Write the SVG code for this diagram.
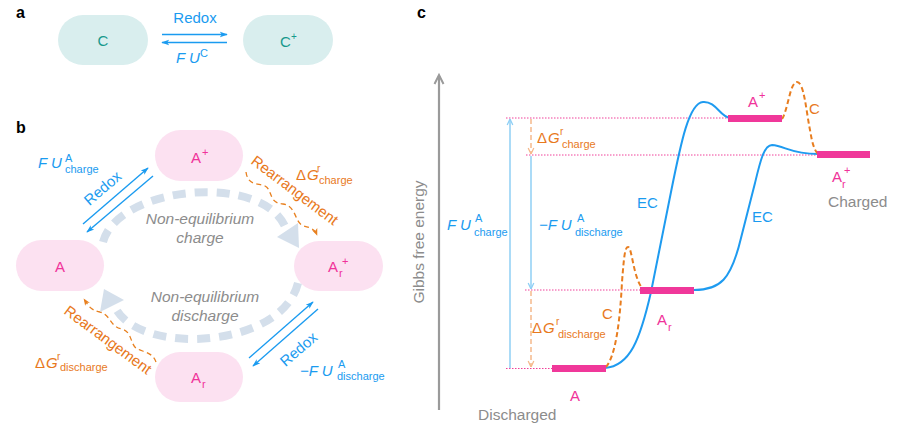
<svg xmlns="http://www.w3.org/2000/svg" width="897" height="432" viewBox="0 0 897 432">
<style>
text{font-family:"Liberation Sans",Arial,Helvetica,sans-serif}
.pl{font-size:16px;font-weight:bold;fill:#000}
.pc{fill:#d9eeee}
.tc{fill:#17998c;font-size:15px}
.pp{fill:#fce1f1}
.tp{fill:#f0339a;font-size:15px}
.bl{fill:#1a9bf0;font-size:15px}
.or{fill:#e8791d;font-size:15px}
.gr{fill:#8c8c8c;font-size:15.5px}
.it{font-style:italic}
.s{font-size:11px}
.sup{font-size:10px}
.blk{stroke:#1a9bf0;stroke-width:1.4;fill:none}
.ow{stroke:#e8801f;stroke-width:1.3;fill:none;stroke-dasharray:5 3.5}
.big{stroke:#d4dfeb;stroke-width:8;fill:none;stroke-dasharray:13 9}
.dot{stroke:#f0409a;stroke-width:1;stroke-dasharray:1.5 1.5;fill:none}
.bar{fill:#f0389a}
.ec{stroke:#1e9bf0;stroke-width:2;fill:none}
.cd{stroke:#e87d1f;stroke-width:2;fill:none;stroke-dasharray:5 3}
</style>
<defs>
<marker id="ab" viewBox="0 0 10 10" refX="9" refY="5" markerWidth="8" markerHeight="8" orient="auto" markerUnits="userSpaceOnUse"><path d="M0,1.5 L10,5 L0,8.5 L2.5,5 z" fill="#1a9bf0"/></marker>
<marker id="ao" viewBox="0 0 10 10" refX="9" refY="5" markerWidth="7" markerHeight="7" orient="auto" markerUnits="userSpaceOnUse"><path d="M0,1 L10,5 L0,9 L2.5,5 z" fill="#e8801f"/></marker>
<marker id="cb" viewBox="0 0 10 10" refX="9.5" refY="5" markerWidth="8" markerHeight="8" orient="auto" markerUnits="userSpaceOnUse"><path d="M2,1.5 L9.5,5 L2,8.5" fill="none" stroke="#8fcff5" stroke-width="1.6"/></marker>
<marker id="co" viewBox="0 0 10 10" refX="9.5" refY="5" markerWidth="8" markerHeight="8" orient="auto" markerUnits="userSpaceOnUse"><path d="M2,1.5 L9.5,5 L2,8.5" fill="none" stroke="#f5b98c" stroke-width="1.6"/></marker>
</defs>

<!-- panel labels -->
<text class="pl" x="16" y="18">a</text>
<text class="pl" x="16" y="133">b</text>
<text class="pl" x="417" y="18">c</text>

<!-- panel a nodes -->
<g id="nodeC"><rect class="pc" x="58" y="15" width="90" height="50" rx="25"/><text class="tc" x="103" y="46" text-anchor="middle">C</text></g>
<g id="nodeCplus"><rect class="pc" x="243" y="15" width="90" height="50" rx="25"/><text class="tc" x="280" y="47">C</text><text class="tc sup" x="291" y="40">+</text></g>

<!-- panel b nodes -->
<g id="nodeAplus"><rect class="pp" x="155" y="130" width="88" height="51" rx="25.5"/><text class="tp" x="191" y="163">A</text><text class="tp s" x="202" y="156">+</text></g>
<g id="nodeA"><rect class="pp" x="16" y="240" width="88" height="51" rx="25.5"/><text class="tp" x="60" y="272" text-anchor="middle">A</text></g>
<g id="nodeArplus"><rect class="pp" x="294" y="241" width="89" height="50" rx="25"/><text class="tp" x="328" y="272">A</text><text class="tp s" x="339" y="277">r</text><text class="tp s" x="342" y="265">+</text></g>
<g id="nodeAr"><rect class="pp" x="155" y="352" width="88" height="50" rx="25"/><text class="tp" x="191" y="383">A</text><text class="tp s" x="202" y="388">r</text></g>

<!-- connectors -->
<g id="connectors">
<!-- panel a -->
<line class="blk" x1="162" y1="34.5" x2="227" y2="34.5" marker-end="url(#ab)"/>
<line class="blk" x1="227" y1="42.5" x2="162" y2="42.5" marker-end="url(#ab)"/>
<!-- panel b redox -->
<line class="blk" x1="83" y1="224" x2="148" y2="168" marker-end="url(#ab)"/>
<line class="blk" x1="153" y1="176" x2="87" y2="232" marker-end="url(#ab)"/>
<line class="blk" x1="249" y1="358" x2="313" y2="302" marker-end="url(#ab)"/>
<line class="blk" x1="318" y1="309" x2="253" y2="366" marker-end="url(#ab)"/>
<!-- rearrangement wavy -->
<path class="ow" d="M246 172 C248 186,258 183,265 186 C273 190,268 203,283 204 C297 206,294 223,304 226 C312 228,315 230,317 235" marker-end="url(#ao)"/>
<path class="ow" d="M156 362 C153 352,142 352,136 348 C130 343,132 332,122 329 C110 327,111 315,100 312 C90 310,88 305,84 299" marker-end="url(#ao)"/>
<!-- non-equilibrium big arrows -->
<path class="big" d="M103 242 C118 185,266 172,286 229"/>
<polygon points="299,248 298,223 277,237" fill="#d4dfeb"/>
<path class="big" d="M298 283 C282 348,142 356,116 309"/>
<polygon points="104,289 100,312 124,300" fill="#d4dfeb"/>

<!-- panel c axis -->
<line x1="439" y1="410" x2="439" y2="76" stroke="#9a9a9a" stroke-width="2.2"/>
<polyline points="434.5,84 439,75 443.5,84" fill="none" stroke="#9a9a9a" stroke-width="2"/>
<!-- level dotted lines -->
<line class="dot" x1="506" y1="118" x2="728" y2="118"/>
<line class="dot" x1="526" y1="155" x2="818" y2="155"/>
<line class="dot" x1="525" y1="290" x2="640" y2="290"/>
<line class="dot" x1="506" y1="368.5" x2="553" y2="368.5"/>
<!-- vertical arrows -->
<line x1="510" y1="368" x2="510" y2="119" stroke="#8fcff5" stroke-width="1.5" marker-end="url(#cb)"/>
<line x1="531" y1="156" x2="531" y2="289" stroke="#8fcff5" stroke-width="1.5" marker-end="url(#cb)"/>
<line x1="531" y1="119" x2="531" y2="154" stroke="#f5b98c" stroke-width="1.5" stroke-dasharray="5 3" marker-end="url(#co)"/>
<line x1="531" y1="291" x2="531" y2="367" stroke="#f5b98c" stroke-width="1.5" stroke-dasharray="5 3" marker-end="url(#co)"/>
<!-- EC curves -->
<path class="ec" d="M605 368 C630 366,640 340,651 292 L671 192 C681 142,689 103,703 102 C716 101,720 117,730 118"/>
<path class="ec" d="M694 290 C720 290,731 280,741 238 L755 183 C760 162,764 145,772 145 C785 146,791 154,818 154"/>
<!-- C curves -->
<path class="cd" d="M606 367 C616 355,620 320,622 282 C624 256,625 247,628 247 C632 247,633 276,642 288"/>
<path class="cd" d="M782 119 C788 110,790 82,797 82 C804 82,806 110,810 130 C812 142,814 150,818 154"/>
</g>

<!-- bars -->
<g id="levels">
<rect class="bar" x="552" y="365" width="54" height="7"/>
<rect class="bar" x="640" y="287" width="54" height="7"/>
<rect class="bar" x="728" y="115" width="54" height="7"/>
<rect class="bar" x="817" y="151" width="53" height="7"/>
</g>

<!-- panel a labels -->
<text class="bl" x="195" y="23" text-anchor="middle">Redox</text>
<text class="bl it" x="176" y="63">F U</text><text class="bl s" x="200" y="57">C</text>

<!-- panel b labels -->
<text class="bl it" x="38" y="168">F U</text><text class="bl s" x="65" y="162">A</text><text class="bl s" x="65" y="173">charge</text>
<text class="bl" x="106" y="192" text-anchor="middle" transform="rotate(-40.7 106 192)">Redox</text>
<text class="bl" x="302" y="353" text-anchor="middle" transform="rotate(-40.7 302 353)">Redox</text>
<text class="bl it" x="300" y="376">−F U</text><text class="bl s" x="338" y="368">A</text><text class="bl s" x="337" y="380">discharge</text>
<text class="or" x="250" y="163" font-size="14" transform="rotate(37 250 163)">Rearrangement</text>
<text class="or" x="63" y="313" font-size="14" transform="rotate(36.5 63 313)">Rearrangement</text>
<text class="or" x="296" y="180">Δ</text><text class="or it" x="307" y="180">G</text><text class="or sup" x="317" y="172">r</text><text class="or s" x="319" y="184">charge</text>
<text class="or" x="35" y="368">Δ</text><text class="or it" x="46" y="368">G</text><text class="or sup" x="57" y="360">r</text><text class="or s" x="60" y="371">discharge</text>
<text class="gr it" x="200" y="224" text-anchor="middle">Non-equilibrium</text>
<text class="gr it" x="200" y="243" text-anchor="middle">charge</text>
<text class="gr it" x="205" y="302" text-anchor="middle">Non-equilibrium</text>
<text class="gr it" x="205" y="321" text-anchor="middle">discharge</text>

<!-- panel c labels -->
<text class="gr" transform="translate(424 242) rotate(-90)" text-anchor="middle">Gibbs free energy</text>
<text class="gr" x="478" y="420">Discharged</text>
<text class="gr" x="828" y="207">Charged</text>
<text class="bl it" x="447" y="230">F U</text><text class="bl s" x="475" y="222">A</text><text class="bl s" x="474" y="236">charge</text>
<text class="bl it" x="539" y="230">−F U</text><text class="bl s" x="577" y="222">A</text><text class="bl s" x="575" y="236">discharge</text>
<text class="or" x="537" y="143">Δ</text><text class="or it" x="548" y="143">G</text><text class="or sup" x="560" y="135">r</text><text class="or s" x="562" y="148">charge</text>
<text class="or" x="532" y="333">Δ</text><text class="or it" x="543" y="333">G</text><text class="or sup" x="556" y="325">r</text><text class="or s" x="558" y="338">discharge</text>
<text class="bl" x="637" y="208">EC</text>
<text class="bl" x="752" y="222">EC</text>
<text class="or" x="602" y="319">C</text>
<text class="or" x="809" y="114">C</text>
<text class="tp" x="570" y="401">A</text>
<text class="tp" x="657" y="325">A</text><text class="tp s" x="668" y="331">r</text>
<text class="tp" x="748" y="107">A</text><text class="tp s" x="759" y="99">+</text>
<text class="tp" x="832" y="182">A</text><text class="tp s" x="842" y="188">r</text><text class="tp s" x="844" y="174">+</text>
</svg>
